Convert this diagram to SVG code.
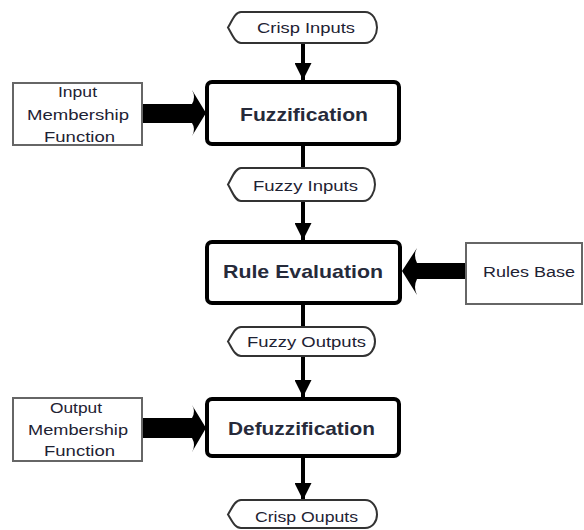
<svg xmlns="http://www.w3.org/2000/svg" width="584" height="530" viewBox="0 0 584 530">
<style>
.main{fill:#fff;stroke:#000;stroke-width:4}
.side{fill:#fff;stroke:#666;stroke-width:2}
.term{fill:#fff;stroke:#333;stroke-width:2}
.mt{font-family:"Liberation Sans",Arial,sans-serif;font-weight:bold;font-size:19px;fill:#262a3a}
.st{font-family:"Liberation Sans",Arial,sans-serif;font-size:14px;fill:#1e2233}
.ln{stroke:#000;stroke-width:4;fill:none}
.thick{fill:#000}
</style>
<defs>
<marker id="ah" viewBox="0 0 17 17" refX="17" refY="8.5" markerWidth="17" markerHeight="17" markerUnits="userSpaceOnUse" orient="auto">
<path d="M0,0 L17,8.5 L0,17 Z" fill="#000"/>
</marker>
</defs>
<g id="connectors">
<line class="ln" x1="303" y1="43" x2="303" y2="80" marker-end="url(#ah)"/>
<line class="ln" x1="303" y1="146" x2="303" y2="168"/>
<line class="ln" x1="303" y1="201" x2="303" y2="240" marker-end="url(#ah)"/>
<line class="ln" x1="303" y1="305" x2="303" y2="327"/>
<line class="ln" x1="303" y1="356" x2="303" y2="397" marker-end="url(#ah)"/>
<line class="ln" x1="303" y1="458" x2="303" y2="500" marker-end="url(#ah)"/>
<path class="thick" d="M143,104 H192 Q196,97 192,90 L206,113 L192,136 Q196,129 192,123 H143 Z"/>
<path class="thick" d="M465,263 H417 Q413,255 417,248 L402,271 L417,295 Q413,287 417,279 H465 Z"/>
<path class="thick" d="M143,418 H192 Q196,411 192,405 L206,428 L192,452 Q196,445 192,438 H143 Z"/>
</g>
<g id="crisp-inputs">
<path class="term" d="M241,12 H365 C373,12 377,21 377,27.5 C377,34 373,43 365,43 H241 C235,43 232,34 228,27.5 C232,21 235,12 241,12 Z"/>
<text class="st" x="257" y="33" textLength="98" lengthAdjust="spacingAndGlyphs">Crisp Inputs</text>
</g>
<g id="fuzzification">
<rect class="main" x="207" y="82" width="192" height="62" rx="5"/>
<text class="mt" x="240" y="121" textLength="128" lengthAdjust="spacingAndGlyphs">Fuzzification</text>
</g>
<g id="input-membership">
<rect class="side" x="13" y="83" width="129" height="62"/>
<text class="st" x="58" y="97" textLength="39" lengthAdjust="spacingAndGlyphs">Input</text>
<text class="st" x="27" y="120" textLength="102" lengthAdjust="spacingAndGlyphs">Membership</text>
<text class="st" x="44" y="142" textLength="71" lengthAdjust="spacingAndGlyphs">Function</text>
</g>
<g id="fuzzy-inputs">
<path class="term" d="M241,168 H363 C371,168 375,178 375,184.5 C375,191 371,201 363,201 H241 C235,201 232,191 228,184.5 C232,178 235,168 241,168 Z"/>
<text class="st" x="253" y="191" textLength="105" lengthAdjust="spacingAndGlyphs">Fuzzy Inputs</text>
</g>
<g id="rule-evaluation">
<rect class="main" x="207" y="242" width="193" height="61" rx="5"/>
<text class="mt" x="223" y="278" textLength="160" lengthAdjust="spacingAndGlyphs">Rule Evaluation</text>
</g>
<g id="rules-base">
<rect class="side" x="466" y="243" width="116" height="61"/>
<text class="st" x="483" y="277" textLength="92" lengthAdjust="spacingAndGlyphs">Rules Base</text>
</g>
<g id="fuzzy-outputs">
<path class="term" d="M241,327 H363 C371,327 375,335 375,341.5 C375,348 371,356 363,356 H241 C235,356 232,348 228,341.5 C232,335 235,327 241,327 Z"/>
<text class="st" x="247" y="347" textLength="119" lengthAdjust="spacingAndGlyphs">Fuzzy Outputs</text>
</g>
<g id="defuzzification">
<rect class="main" x="207" y="399" width="192" height="57" rx="5"/>
<text class="mt" x="228" y="435" textLength="147" lengthAdjust="spacingAndGlyphs">Defuzzification</text>
</g>
<g id="output-membership">
<rect class="side" x="13" y="398" width="129" height="63"/>
<text class="st" x="50" y="413" textLength="52" lengthAdjust="spacingAndGlyphs">Output</text>
<text class="st" x="28" y="435" textLength="100" lengthAdjust="spacingAndGlyphs">Membership</text>
<text class="st" x="44" y="456" textLength="71" lengthAdjust="spacingAndGlyphs">Function</text>
</g>
<g id="crisp-outputs">
<path class="term" d="M241,500 H365 C373,500 377,508 377,514.5 C377,521 373,528 365,528 H241 C235,528 232,521 228,514.5 C232,508 235,500 241,500 Z"/>
<text class="st" x="255" y="522" textLength="103" lengthAdjust="spacingAndGlyphs">Crisp Ouputs</text>
</g>
</svg>
